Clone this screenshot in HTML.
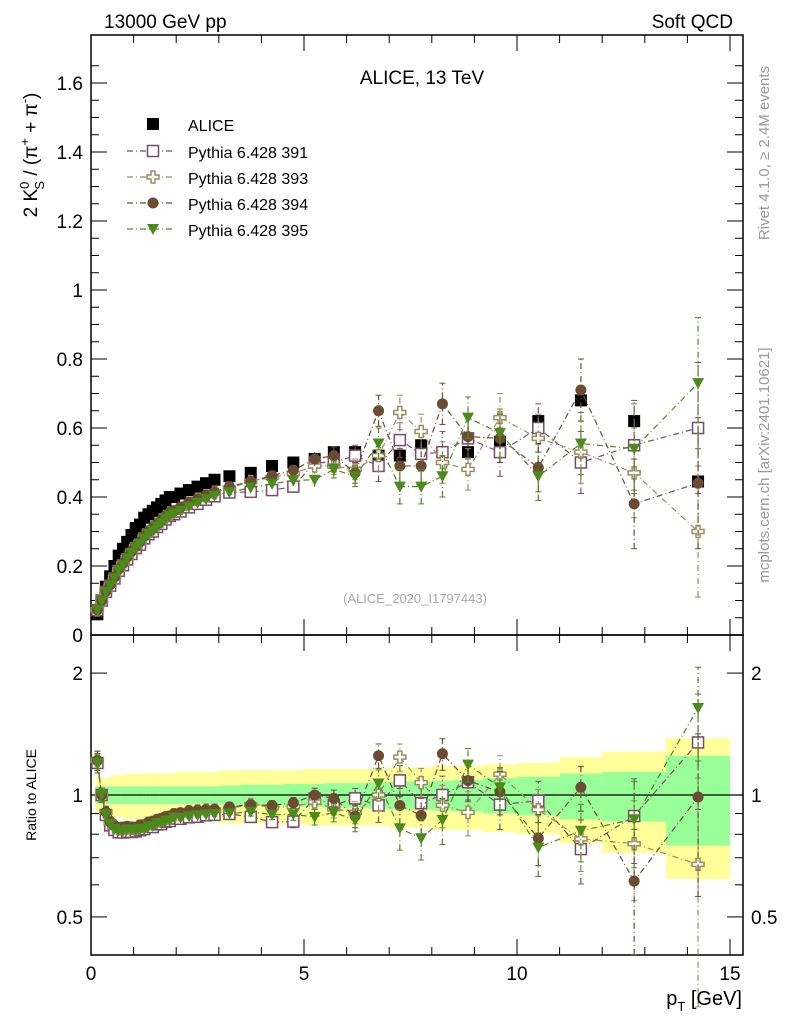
<!DOCTYPE html>
<html><head><meta charset="utf-8"><style>
body{margin:0;background:#fff}
svg{display:block;font-family:"Liberation Sans",sans-serif}
</style></head><body>
<svg id="c" width="786" height="1024" viewBox="0 0 786 1024"></svg>
<script>
const pT=[0.15,0.25,0.35,0.45,0.55,0.65,0.75,0.85,0.95,1.05,1.15,1.25,1.35,1.45,1.55,1.65,1.75,1.85,1.95,2.1,2.3,2.5,2.7,2.9,3.25,3.75,4.25,4.75,5.25,5.7,6.2,6.75,7.25,7.75,8.25,8.85,9.6,10.5,11.5,12.75,14.25];
const binLo=[0.1,0.2,0.3,0.4,0.5,0.6,0.7,0.8,0.9,1.0,1.1,1.2,1.3,1.4,1.5,1.6,1.7,1.8,1.9,2.0,2.2,2.4,2.6,2.8,3.0,3.5,4.0,4.5,5.0,5.5,6.0,6.5,7.0,7.5,8.0,8.5,9.2,10.0,11.0,12.0,13.5];
const binHi=[0.2,0.3,0.4,0.5,0.6,0.7,0.8,0.9,1.0,1.1,1.2,1.3,1.4,1.5,1.6,1.7,1.8,1.9,2.0,2.2,2.4,2.6,2.8,3.0,3.5,4.0,4.5,5.0,5.5,6.0,6.5,7.0,7.5,8.0,8.5,9.2,10.0,11.0,12.0,13.5,15.0];
const alice=[0.06,0.10,0.14,0.17,0.20,0.23,0.25,0.27,0.29,0.31,0.32,0.34,0.35,0.36,0.37,0.38,0.39,0.40,0.40,0.41,0.42,0.43,0.44,0.45,0.46,0.47,0.49,0.50,0.51,0.53,0.53,0.52,0.52,0.55,0.53,0.53,0.56,0.62,0.68,0.62,0.445];
const statRel=[0.05,0.05,0.05,0.05,0.05,0.05,0.05,0.05,0.05,0.05,0.05,0.05,0.05,0.05,0.05,0.05,0.05,0.05,0.05,0.05,0.05,0.05,0.05,0.05,0.055,0.06,0.06,0.065,0.065,0.07,0.07,0.075,0.08,0.08,0.085,0.09,0.1,0.11,0.13,0.14,0.25];
const totRel=[0.1,0.1,0.1,0.11,0.12,0.12,0.12,0.13,0.13,0.13,0.13,0.13,0.13,0.13,0.13,0.13,0.13,0.13,0.13,0.14,0.14,0.14,0.14,0.14,0.15,0.15,0.15,0.15,0.16,0.16,0.16,0.16,0.17,0.17,0.18,0.18,0.19,0.2,0.24,0.28,0.38];
const p391=[0.072,0.10,0.125,0.143,0.164,0.186,0.202,0.219,0.235,0.252,0.262,0.28,0.292,0.3,0.313,0.322,0.335,0.345,0.35,0.358,0.37,0.38,0.392,0.402,0.413,0.415,0.42,0.43,0.5,0.5,0.52,0.49,0.565,0.525,0.53,0.57,0.53,0.6,0.5,0.55,0.6];
const p393=[0.073,0.10,0.127,0.145,0.167,0.19,0.207,0.224,0.24,0.256,0.268,0.285,0.298,0.308,0.32,0.33,0.342,0.352,0.357,0.367,0.382,0.393,0.404,0.413,0.426,0.445,0.457,0.468,0.49,0.49,0.48,0.52,0.645,0.59,0.5,0.48,0.63,0.57,0.53,0.47,0.3];
const p394=[0.073,0.10,0.127,0.146,0.168,0.191,0.208,0.226,0.242,0.258,0.27,0.287,0.3,0.31,0.322,0.333,0.345,0.355,0.36,0.371,0.384,0.394,0.405,0.415,0.43,0.445,0.462,0.478,0.51,0.52,0.47,0.65,0.49,0.49,0.67,0.575,0.57,0.485,0.71,0.38,0.44];
const p395=[0.072,0.10,0.125,0.144,0.165,0.188,0.204,0.222,0.238,0.254,0.264,0.28,0.293,0.302,0.315,0.324,0.337,0.346,0.352,0.36,0.372,0.383,0.394,0.404,0.414,0.427,0.438,0.448,0.45,0.48,0.46,0.555,0.43,0.43,0.46,0.63,0.585,0.46,0.555,0.54,0.73];
const modelErr=[0.004,0.004,0.004,0.004,0.004,0.004,0.004,0.004,0.004,0.004,0.004,0.004,0.004,0.004,0.004,0.005,0.005,0.005,0.005,0.006,0.006,0.007,0.008,0.008,0.009,0.01,0.012,0.015,0.02,0.025,0.03,0.045,0.05,0.05,0.06,0.06,0.07,0.07,0.09,0.13,0.19];
const yTicks=[0,0.2,0.4,0.6,0.8,1,1.2,1.4,1.6];
const yLabels=["0","0.2","0.4","0.6","0.8","1","1.2","1.4","1.6"];
const xTicks=[0,5,10,15];
const rTicks=[0.5,1,2];

const NS="http://www.w3.org/2000/svg";
const svg=document.getElementById('c');
const L=91,R=743,T=35,MB=635,RB=955;
const X=v=>L+v*42.6;
const Y=v=>MB-v*345;
const RY=v=>795-Math.log10(v)*405;
function el(tag,attrs,parent){const e=document.createElementNS(NS,tag);for(const k in attrs)e.setAttribute(k,attrs[k]);(parent||svg).appendChild(e);return e;}
function txt(s,x,y,size,anchor,fill,parent){const t=el('text',{x:x,y:y,'font-size':size,'text-anchor':anchor||'start',fill:fill||'#000'},parent);t.textContent=s;return t;}

const bands=el('g',{});


for(let i=0;i<pT.length;i++){
  const y=el('rect',{x:X(binLo[i]),width:X(binHi[i])-X(binLo[i]),y:RY(1+totRel[i]),height:RY(1-totRel[i])-RY(1+totRel[i]),fill:'#ffff99'},bands);
  
  
}
for(let i=0;i<pT.length;i++){
  const g=el('rect',{x:X(binLo[i]),width:X(binHi[i])-X(binLo[i]),y:RY(1+statRel[i]),height:RY(1-statRel[i])-RY(1+statRel[i]),fill:'#99ff99'},bands);
  
  
}
el('line',{x1:L,x2:R,y1:RY(1),y2:RY(1),stroke:'#000','stroke-width':1.2});

el('rect',{x:L,y:T,width:R-L,height:MB-T,fill:'none',stroke:'#000','stroke-width':1.5});
el('rect',{x:L,y:MB,width:R-L,height:RB-MB,fill:'none',stroke:'#000','stroke-width':1.5});
for(let v=0;v<=1.7;v+=0.05){const maj=Math.abs(v/0.2-Math.round(v/0.2))<0.01;const len=maj?16:8;
  el('line',{x1:L,x2:L+len,y1:Y(v),y2:Y(v),stroke:'#000'});el('line',{x1:R,x2:R-len,y1:Y(v),y2:Y(v),stroke:'#000'});}
yTicks.forEach((v,i)=>{const t=txt(yLabels[i],L-8,Y(v)+7,19,'end');});
for(let v=0;v<=15.4;v+=1){const maj=v%5===0;const len=maj?16:8;
  [[T,1],[MB,-1],[MB,1],[RB,-1]].forEach(([y0,d])=>el('line',{x1:X(v),x2:X(v),y1:y0,y2:y0+d*len,stroke:'#000'}));}
xTicks.forEach(v=>{const t=txt(String(v),X(v),980,19,'middle');});
[0.5,0.6,0.7,0.8,0.9,1,2].forEach(v=>{const maj=[0.5,1,2].includes(v);const len=maj?16:8;
  el('line',{x1:L,x2:L+len,y1:RY(v),y2:RY(v),stroke:'#000'});el('line',{x1:R,x2:R-len,y1:RY(v),y2:RY(v),stroke:'#000'});});
rTicks.forEach(v=>{const a=txt(String(v),L-8,RY(v)+7,19,'end');
  const b=txt(String(v),R+8,RY(v)+7,19,'start');});

function marker(type,x,y,col,parent){
  if(type==='sq')return el('rect',{x:x-6,y:y-6,width:12,height:12,fill:'#000'},parent);
  if(type==='osq')return el('rect',{x:x-5.5,y:y-5.5,width:11,height:11,fill:'#fff',stroke:col,'stroke-width':1.5},parent);
  if(type==='cross')return el('path',{d:`M${x-2},${y-6}h4v4h4v4h-4v4h-4v-4h-4v-4h4z`,fill:'#fff',stroke:col,'stroke-width':1.5},parent);
  if(type==='circ')return el('circle',{cx:x,cy:y,r:5.5,fill:col},parent);
  if(type==='tri')return el('path',{d:`M${x-6},${y-5}h12l-6,11z`,fill:col},parent);
}
const series=[
 {name:'pythia-391',vals:p391,col:'#7b4a6b',m:'osq'},
 {name:'pythia-393',vals:p393,col:'#9c8b5e',m:'cross'},
 {name:'pythia-394',vals:p394,col:'#6b4c33',m:'circ'},
 {name:'pythia-395',vals:p395,col:'#4b8a1b',m:'tri'}];
function drawSeries(s,yf,vf,ef){
  const g=el('g',{});
  
  
  let d='';pT.forEach((p,i)=>{d+=(i?'L':'M')+X(p)+','+yf(vf(i));});
  el('path',{d:d,fill:'none',stroke:s.col,'stroke-width':1.2,'stroke-dasharray':'6,3,1,3'},g);
  pT.forEach((p,i)=>{const v=vf(i),e=ef(i);
    el('line',{x1:X(p),x2:X(p),y1:yf(v-e),y2:yf(v+e),stroke:s.col,'stroke-width':1.2,'stroke-dasharray':'6,3,1,3'},g);
    if(e>0.02){el('line',{x1:X(p)-3,x2:X(p)+3,y1:yf(v-e),y2:yf(v-e),stroke:s.col},g);el('line',{x1:X(p)-3,x2:X(p)+3,y1:yf(v+e),y2:yf(v+e),stroke:s.col},g);}
    const mk=marker(s.m,X(p),yf(v),s.col,g);
    
    
  });
}
const ag=el('g',{});


pT.forEach((p,i)=>{const m=marker('sq',X(p),Y(alice[i]),'#000',ag);});
series.forEach(s=>drawSeries(s,Y,i=>s.vals[i],i=>modelErr[i]));
series.forEach(s=>drawSeries(s,v=>RY(Math.max(v,0.3)),i=>s.vals[i]/alice[i],i=>modelErr[i]/alice[i]));

let t;
t=txt('13000 GeV pp',104,28,19);
t=txt('Soft QCD',733,28,19,'end');
t=txt('ALICE, 13 TeV',422,84,19,'middle');
t=txt('(ALICE_2020_I1797443)',415,603,13,'middle','#aaa');
t=el('text',{x:0,y:0,'font-size':15,fill:'#999','text-anchor':'middle',transform:'translate(769,153) rotate(-90)'});t.textContent='Rivet 4.1.0, ≥ 2.4M events';

t=el('text',{x:0,y:0,'font-size':15,fill:'#999','text-anchor':'middle',transform:'translate(769,465) rotate(-90)'});t.textContent='mcplots.cern.ch [arXiv:2401.10621]';

t=el('text',{x:0,y:0,'font-size':19,'text-anchor':'middle',transform:'translate(37,155) rotate(-90)'});
t.innerHTML='2 K<tspan font-size="13" dy="-8">0</tspan><tspan font-size="13" dx="-8" dy="15">S</tspan><tspan dy="-7"> / (π</tspan><tspan font-size="13" dy="-8">+</tspan><tspan dy="8"> + π</tspan><tspan font-size="13" dy="-8">-</tspan><tspan dy="8">)</tspan>';

t=el('text',{x:0,y:0,'font-size':14,'text-anchor':'middle',transform:'translate(36,795) rotate(-90)'});t.textContent='Ratio to ALICE';

t=el('text',{x:742,y:1005,'font-size':20,'text-anchor':'end'});t.innerHTML='p<tspan font-size="13" dy="6">T</tspan><tspan dy="-6"> [GeV]</tspan>';


const lg=el('g',{});


marker('sq',153,124,'#000',lg);
t=txt('ALICE',188,131,16,'start','#000',lg);
const labs=['Pythia 6.428 391','Pythia 6.428 393','Pythia 6.428 394','Pythia 6.428 395'];
series.forEach((s,i)=>{const y=151+i*26;
  el('line',{x1:127,x2:175,y1:y,y2:y,stroke:s.col,'stroke-width':1.2,'stroke-dasharray':'6,3,1,3'},lg);
  marker(s.m,153,y,s.col,lg);
  const e=txt(labs[i],188,y+7,16,'start','#000',lg);});
</script>
</body></html>
